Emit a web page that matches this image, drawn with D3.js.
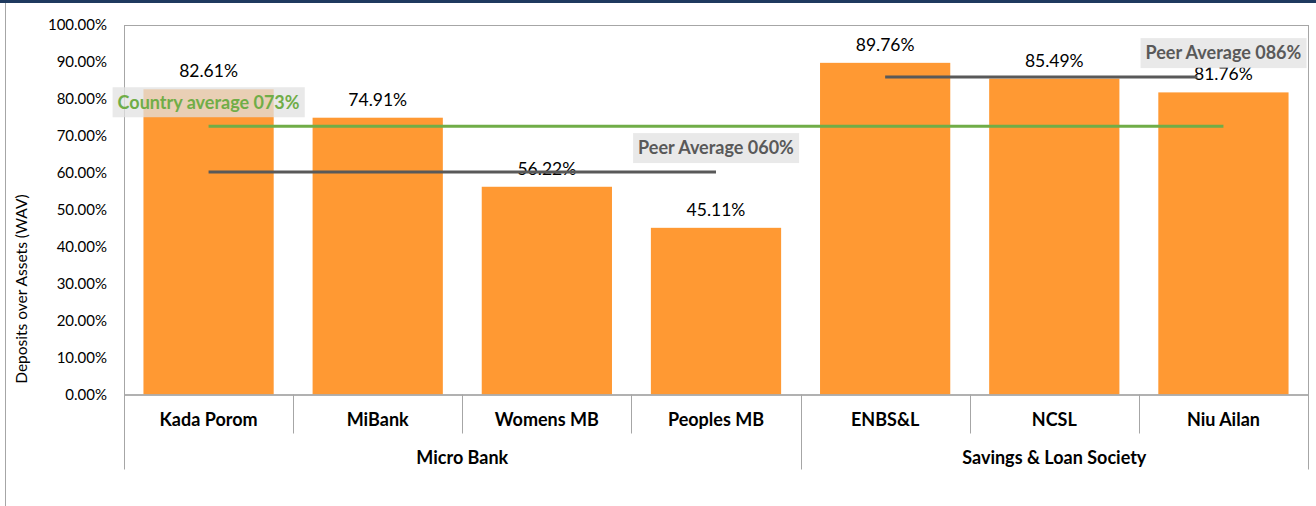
<!DOCTYPE html>
<html>
<head>
<meta charset="utf-8">
<script src="https://cdn.jsdelivr.net/npm/d3@7"></script>
<style>
  body { margin: 0; background: #fff; }
  svg { display: block; font-family: Lato, "Open Sans", sans-serif; }
</style>
</head>
<body>
<div id="chart"></div>
<script>
// Chart data
const categories = ["Kada Porom", "MiBank", "Womens MB", "Peoples MB", "ENBS&L", "NCSL", "Niu Ailan"];
const values = [82.61, 74.91, 56.22, 45.11, 89.76, 85.49, 81.76];
const groups = ["Micro Bank", "Micro Bank", "Micro Bank", "Micro Bank",
                "Savings & Loan Society", "Savings & Loan Society", "Savings & Loan Society"];
const yTicks = [0, 10, 20, 30, 40, 50, 60, 70, 80, 90, 100];
const avgNames = ["Country average 073%", "Peer Average 060%", "Peer Average 086%"];
const avgValues = [72.6, 60.2, 85.9];
const avgFrom = ["Kada Porom", "Kada Porom", "ENBS&L"];
const avgTo = ["Niu Ailan", "Peoples MB", "Niu Ailan"];

const W = 1316, H = 506;
const margin = { top: 25, right: 8, bottom: 111.5, left: 124 };
const width = W - margin.left - margin.right;
const height = H - margin.top - margin.bottom;

const svg = d3.select("#chart").append("svg")
    .attr("width", W)
    .attr("height", H);

// Outer frame: navy strip on top, grey line on the left
svg.append("rect").attr("x", 0).attr("y", 0).attr("width", W).attr("height", 3).attr("fill", "#1F3A5F");
svg.append("line").attr("x1", 5.5).attr("x2", 5.5).attr("y1", 3).attr("y2", H)
    .attr("stroke", "#A6A6A6").attr("stroke-width", 1);

const g = svg.append("g")
    .attr("transform", "translate(" + margin.left + "," + margin.top + ")");

// Scales
const x = d3.scaleBand()
    .domain(categories)
    .range([0, width])
    .paddingInner(0.23)
    .paddingOuter(0.115);

const y = d3.scaleLinear()
    .domain([0, 100])
    .range([height, 0]);

const cx = c => x(c) + x.bandwidth() / 2;
const step = x.step();

// Plot area border
g.append("rect")
    .attr("x", 0.5).attr("y", 0.5)
    .attr("width", width).attr("height", height)
    .attr("fill", "none")
    .attr("stroke", "#A6A6A6");

// Bars
g.selectAll(".bar")
    .data(categories)
    .enter().append("rect")
    .attr("class", "bar")
    .attr("x", d => x(d))
    .attr("y", (d, i) => y(values[i]))
    .attr("width", x.bandwidth())
    .attr("height", (d, i) => height - y(values[i]))
    .attr("fill", "#FF9933");

// Value labels
g.selectAll(".val")
    .data(categories)
    .enter().append("text")
    .attr("class", "val")
    .attr("x", d => cx(d))
    .attr("y", (d, i) => y(values[i]) - 12)
    .attr("text-anchor", "middle")
    .style("font-size", "17.5px")
    .style("fill", "#000")
    .text((d, i) => values[i].toFixed(2) + "%");

// Y axis
const yAxis = g.append("g")
    .call(d3.axisLeft(y).tickValues(yTicks).tickSize(0).tickPadding(17)
        .tickFormat(d => d.toFixed(2) + "%"));
yAxis.select(".domain").remove();
yAxis.selectAll("text")
    .style("font-size", "15px")
    .style("font-family", "Lato, sans-serif")
    .style("fill", "#000");

// Y axis title
svg.append("text")
    .attr("transform", "rotate(-90)")
    .attr("x", -289)
    .attr("y", 27)
    .attr("text-anchor", "middle")
    .style("font-size", "15.5px")
    .text("Deposits over Assets (WAV)");

// X axis line
g.append("line")
    .attr("x1", 0).attr("x2", width + 0.5)
    .attr("y1", height + 0.5).attr("y2", height + 0.5)
    .attr("stroke", "#A6A6A6").attr("stroke-width", 1.5);

// Category separators (short) and group separators (long)
const groupEdges = [0];
categories.forEach((c, i) => {
    if (i > 0 && groups[i] !== groups[i - 1]) groupEdges.push(i);
});
groupEdges.push(categories.length);

categories.forEach((c, i) => {
    if (i === 0 || groupEdges.includes(i)) return;
    g.append("line")
        .attr("x1", Math.round(i * step) + 0.5).attr("x2", Math.round(i * step) + 0.5)
        .attr("y1", height).attr("y2", height + 39)
        .attr("stroke", "#A6A6A6");
});
groupEdges.forEach(i => {
    const xx = Math.min(Math.round(i * step), width) + 0.5;
    g.append("line")
        .attr("x1", xx).attr("x2", xx)
        .attr("y1", height).attr("y2", height + 75)
        .attr("stroke", "#A6A6A6");
});

// Category labels
g.selectAll(".cat")
    .data(categories)
    .enter().append("text")
    .attr("class", "cat")
    .attr("x", d => cx(d))
    .attr("y", height + 31)
    .attr("text-anchor", "middle")
    .style("font-size", "18px")
    .style("font-weight", "bold")
    .text(d => d);

// Group labels
for (let k = 0; k < groupEdges.length - 1; k++) {
    const a = groupEdges[k], b = groupEdges[k + 1];
    g.append("text")
        .attr("x", (a + b) / 2 * step)
        .attr("y", height + 69)
        .attr("text-anchor", "middle")
        .style("font-size", "18px")
        .style("font-weight", "bold")
        .text(groups[a]);
}

// Average lines
const avgColors = ["#70AD47", "#595959", "#595959"];
const labelAt = ["start", "end", "end"];
avgNames.forEach((name, i) => {
    let x2 = cx(avgTo[i]);
    if (i === 2) x2 -= 26; // line stops short of the last bar centre
    g.append("line")
        .attr("x1", cx(avgFrom[i])).attr("x2", x2)
        .attr("y1", y(avgValues[i])).attr("y2", y(avgValues[i]))
        .attr("stroke", avgColors[i])
        .attr("stroke-width", 3);
});

// Average labels with grey background boxes
avgNames.forEach((name, i) => {
    const lx = labelAt[i] === "start" ? cx(avgFrom[i]) : cx(avgTo[i]);
    const ly = y(avgValues[i]) - 24;
    const t = g.append("text")
        .attr("x", lx)
        .attr("y", ly)
        .attr("dy", "0.35em")
        .attr("text-anchor", "middle")
        .style("font-size", "18px")
        .style("font-weight", "bold")
        .style("fill", avgColors[i])
        .text(name);
    const bb = t.node().getBBox();
    g.insert("rect", () => t.node())
        .attr("x", bb.x - 5).attr("y", ly - 15)
        .attr("width", bb.width + 10).attr("height", 30)
        .attr("fill", "#E2E2E2")
        .attr("opacity", 0.75);
});
</script>
</body>
</html>
